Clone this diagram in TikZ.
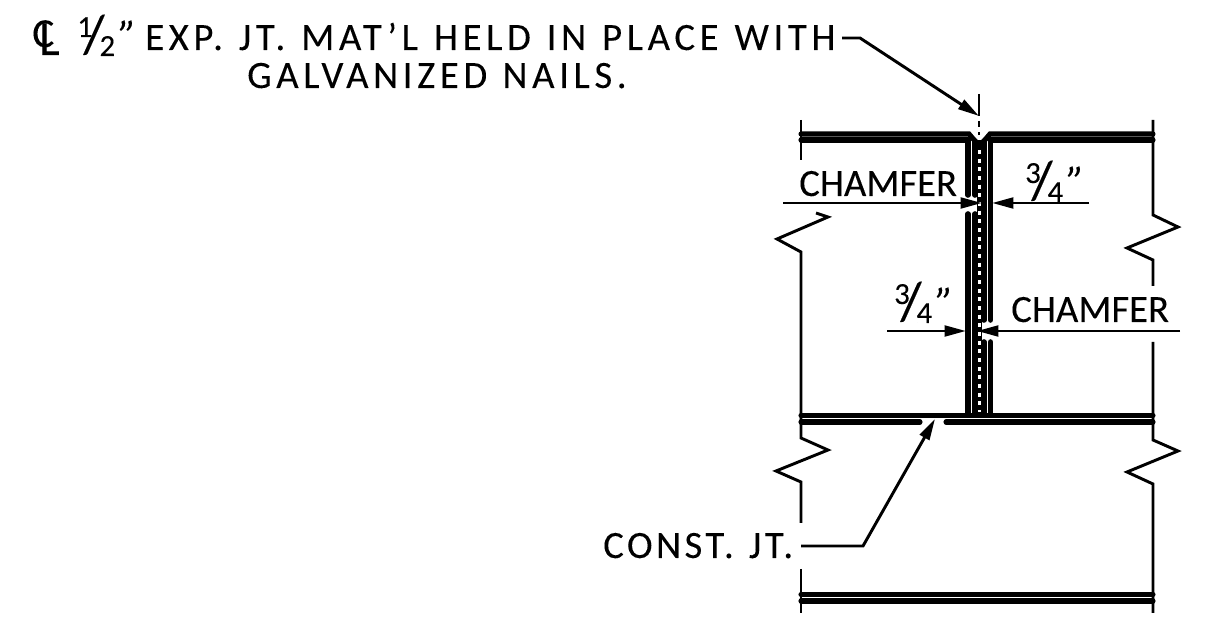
\documentclass[tikz,border=0pt]{standalone}
\usepackage{fontspec}
\setmainfont[FakeBold=0.1]{Carlito}
\usetikzlibrary{arrows.meta,positioning}
\newcommand{\slashfrac}[2]{{\fontsize{23}{23}\selectfont\raisebox{9.75pt}{#1}\kern-7pt{\fontsize{41}{41}\selectfont\raisebox{-2pt}{/}}\kern-3.75pt\raisebox{-4.5pt}{#2}}\kern2.5pt{\fontsize{32}{32}\selectfont\textit{"}}}
\newcommand{\clmark}{\raisebox{2.25pt}{\fontsize{31}{31}\selectfont C}\kern-11.5pt\raisebox{-3.75pt}{\fontsize{37}{37}\selectfont L}}
\tikzset{
    lbl/.style={inner sep=0pt, anchor=base west, font=\fontsize{29}{29}\selectfont},
    lblwide/.style={lbl, font=\fontsize{29}{29}\selectfont\addfontfeature{LetterSpace=12}},
    wall/.style={line width=2.2pt},
    slab/.style={line width=3.8pt, line cap=round},
    bar/.style={line width=4.2pt, line cap=round},
    leader/.style={line width=2.2pt, -{Triangle[length=16pt,width=8pt]}}
}
\begin{document}
\begin{tikzpicture}[x=0.75pt,y=-0.75pt]
    \useasboundingbox (0,0) rectangle (1208,634);
    % Break lines at both faces
    \draw[wall] (801,120) -- (801,160);
    \draw[wall] (816,213) -- (828,217) -- (777,239) -- (801,252) -- (801,415);
    \draw[wall] (801,415) -- (801,438) -- (828,450) -- (776,471) -- (801,482) -- (801,523);
    \draw[wall] (801,569) -- (801,613);
    \draw[wall] (1153,120) -- (1153,215) -- (1178,227) -- (1127,248) -- (1153,260) -- (1153,286);
    \draw[wall] (1153,342) -- (1153,440) -- (1178,451) -- (1127,472) -- (1153,484) -- (1153,613);

    % Slab faces
    \draw[slab] (801,134) -- (969,134) -- (975,141);
    \draw[slab] (801,140) -- (968,140);
    \draw[slab] (1153,134) -- (990,134) -- (984,141);
    \draw[slab] (1153,140) -- (990,140);
    \draw[slab] (801,415.5) -- (1153,415.5);
    \draw[slab] (801,422) -- (920,422);
    \draw[slab] (946,422) -- (1153,422);
    \draw[slab] (801,594.5) -- (1153,594.5);
    \draw[slab] (801,601) -- (1153,601);

    % Joint bars
    \draw[bar] (968,140) -- (968,195);
    \draw[bar] (975,141) -- (975,195);
    \draw[bar] (968,214) -- (968,415);
    \draw[bar] (975,214) -- (975,415);
    \draw[bar] (984,141) -- (984,320);
    \draw[bar] (990.5,140) -- (990.5,320);
    \draw[bar] (984,342) -- (984,415);
    \draw[bar] (990.5,342) -- (990.5,415);

    % Joint filler
    \draw[line width=4pt] (979.5,140) -- (979.5,415);
    \draw[white, line width=2.2pt, dash pattern=on 3pt off 3.5pt] (979.5,150) -- (979.5,412);

    % Centre line
    \draw[wall] (979,94) -- (979,116);
    \draw[wall] (979,121) -- (979,127);
    \draw[wall] (979,132) -- (979,135);

    % Labels
    \node[lbl] (cl) at (32,50) {\clmark};
    \node[lbl] (half) at (77,50) {\slashfrac{1}{2}};
    \node[lblwide] (expjt) at (145,50) {\spaceskip=12pt EXP. JT. MAT'L HELD IN PLACE WITH};
    \node[lblwide] (nails) at (247,88) {\spaceskip=11.5pt GALVANIZED NAILS.};
    \node[lbl] (chamfa) at (799,196) {CHAMFER};
    \node[lbl] (fraca) at (1025,196) {\slashfrac{3}{4}};
    \node[lbl] (fracb) at (894,317) {\slashfrac{3}{4}};
    \node[lbl] (chamfb) at (1011,322) {CHAMFER};
    \node[lblwide] (constjt) at (603,558) {\addfontfeature{LetterSpace=9}\spaceskip=11.5pt CONST. JT.};

    % Leaders
    \coordinate (expstart) at (842,38);
    \coordinate (expbend) at (860,38);
    \coordinate (exptip) at (979,116);
    \coordinate (constjtstart) at (801,546);
    \coordinate (constjtbend) at (863,546);
    \coordinate (constjttip) at (935,419);
    \coordinate (chamfastart) at (783,203);
    \coordinate (chamfatip) at (982,203);
    \coordinate (fracastart) at (1089,203);
    \coordinate (fracatip) at (992,203);
    \coordinate (fracbstart) at (887,331);
    \coordinate (fracbtip) at (966,331);
    \coordinate (chamfbstart) at (1180,331);
    \coordinate (chamfbtip) at (977,331);

    \draw[leader] (expstart) -- (expbend) -- (exptip);
    \draw[leader] (constjtstart) -- (constjtbend) -- (constjttip);
    \draw[leader] (chamfastart) -- (chamfatip);
    \draw[leader] (fracastart) -- (fracatip);
    \draw[leader] (fracbstart) -- (fracbtip);
    \draw[leader] (chamfbstart) -- (chamfbtip);
\end{tikzpicture}
\end{document}
